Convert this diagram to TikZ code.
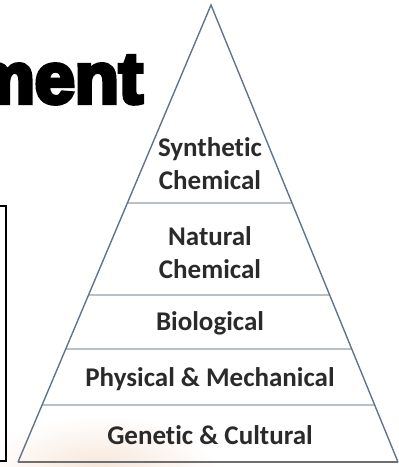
\documentclass[tikz,border=0pt]{standalone}
\usepackage{fontspec}
\setmainfont{Carlito}[Ligatures=NoCommon]
\newfontfamily\heavyfont{Liberation Sans}[BoldFeatures={FakeBold=6}]
\usetikzlibrary{calc}
\definecolor{edgegray}{HTML}{62748A}
\definecolor{layergray}{HTML}{B8C0C8}
\definecolor{basegray}{HTML}{6E6E6E}
\definecolor{textgray}{HTML}{2A2A2A}
\definecolor{haze}{HTML}{F6E4D6}

\begin{document}
\begin{tikzpicture}[x=1pt,y=-1pt,
    layer/.style={font=\bfseries\fontsize{27}{33}\selectfont,text=textgray,align=center},
    edge/.style={draw=edgegray,line width=1.4pt},
    layerline/.style={draw=layergray,line width=1.1pt},
    baseedge/.style={draw=basegray,line width=1.8pt}
  ]
  \useasboundingbox (0,0) rectangle (399,467);
  \shade[inner color=haze,outer color=white] (100,475) ellipse (120 and 60);

  \node[anchor=base east,inner sep=0,font=\heavyfont\bfseries\fontsize{72}{72}\selectfont] (title) at (143,103) {ment};
  \draw[line width=2.5pt] (-10,206) -- (6,206) -- (6,461) -- (-10,461);

  \coordinate (apex) at (211,5);
  \coordinate (bl) at (18,462);
  \coordinate (br) at (398,462);
  \foreach \t in {0.4333,0.6346,0.7527,0.8753}
    \draw[layerline] ($(apex)!\t!(bl)$) -- ($(apex)!\t!(br)$);
  \draw[edge] (bl) -- (apex) -- (br);
  \draw[baseedge] (bl) -- (br);

  \node[layer] (synthetic) at (210,164) {Synthetic\\Chemical};
  \node[layer] (natural) at (210,253) {Natural\\Chemical};
  \node[layer] (biological) at (210,323) {Biological};
  \node[layer] (physical) at (210,379) {Physical \& Mechanical};
  \node[layer] (genetic) at (210,435) {Genetic \& Cultural};
\end{tikzpicture}
\end{document}
